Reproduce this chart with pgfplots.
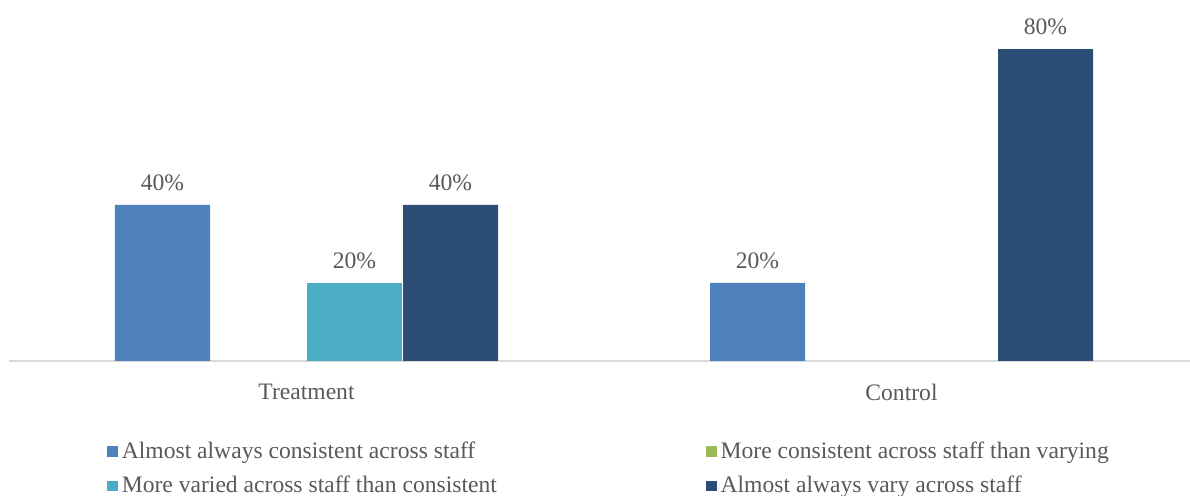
\documentclass[border=0pt]{standalone}
\usepackage{fontspec}
\setmainfont{Liberation Serif}
\usepackage{pgfplots}
\pgfplotsset{compat=1.18}
\definecolor{txt}{HTML}{595959}
\definecolor{c1}{HTML}{4F81BD}
\definecolor{c2}{HTML}{9BBB59}
\definecolor{c3}{HTML}{4BACC6}
\definecolor{c4}{HTML}{2C4D75}
\definecolor{axl}{HTML}{D9D9D9}
\begin{document}
\begin{tikzpicture}
\begin{axis}[
  scale only axis,
  width=595pt, height=175.5pt,
  xmin=-0.5, xmax=1.5, ymin=0, ymax=90,
  ybar=0.5pt, bar width=47.5pt,
  axis y line=none,
  axis x line*=bottom,
  x axis line style={draw=axl, line width=1pt},
  xtick={0,1}, xticklabels={Treatment,Control},
  major tick length=0pt,
  xticklabel style={font=\fontsize{11.8}{14}\selectfont, text=txt, yshift=-8pt},
  clip=false,
  unbounded coords=discard,
  nodes near coords,
  point meta=explicit symbolic,
  every node near coord/.append style={font=\fontsize{11.8}{14}\selectfont, text=txt, yshift=3.5pt},
  legend columns=2,
  legend style={draw=none, at={(rel axis cs:0.077,-0.206)}, anchor=north west,
    font=\fontsize{11.8}{14}\selectfont, text=txt, row sep=3.5pt,
    /tikz/every even column/.append style={column sep=0pt}},
  legend cell align=left,
  legend image code/.code={\fill[#1,draw=none] (0pt,-2.6pt) rectangle (5.4pt,2.8pt);},
]
\addplot[fill=c1, draw=none] coordinates {(0,40) [40\%] (1,20) [20\%]};
\addplot[fill=c2, draw=none, fill opacity=0, legend image post style={fill opacity=1}] coordinates {(0,0) [] (1,0) []};
\addplot[fill=c3, draw=none] coordinates {(0,20) [20\%] (1,nan) []};
\addplot[fill=c4, draw=none] coordinates {(0,40) [40\%] (1,80) [80\%]};
\legend{\makebox[290pt][l]{Almost always consistent across staff},More consistent across staff than varying,\makebox[290pt][l]{More varied across staff than consistent},Almost always vary across staff}
\end{axis}
\pgfresetboundingbox
\path ([xshift=-4.5pt,yshift=-67.5pt]current axis.south west) rectangle ([xshift=-4.5pt,yshift=5pt]current axis.north east);
\end{tikzpicture}
\end{document}
